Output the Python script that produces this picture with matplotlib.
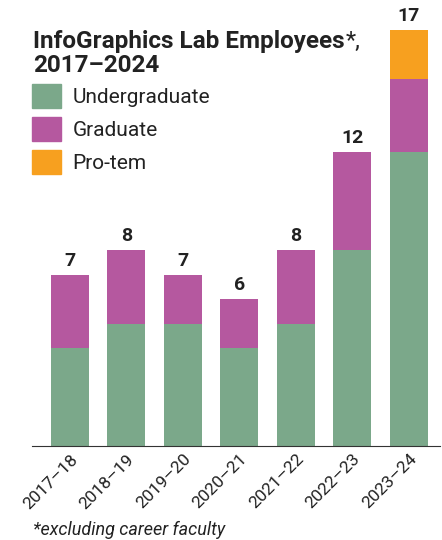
import numpy as np
import matplotlib.pyplot as plt
from matplotlib.patches import Patch

years = ['2017–18', '2018–19', '2019–20', '2020–21', '2021–22', '2022–23', '2023–24']
undergrad = [4, 5, 5, 4, 5, 8, 12]
graduate = [3, 3, 2, 2, 3, 4, 3]
protem = [0, 0, 0, 0, 0, 0, 2]
series = ['Undergraduate', 'Graduate', 'Pro-tem']
colors = ['#7ba88a', '#b5589f', '#f7a01f']

plt.rcParams['font.family'] = ['Roboto', 'DejaVu Sans']
W, H = 442, 540
fig = plt.figure(figsize=(W/100, H/100), dpi=100)
ax = fig.add_axes([32/W, (H-446)/H, (440-32)/W, 441/H])

x = np.arange(len(years))
bottom = np.zeros(len(years))
for vals, c in zip([undergrad, graduate, protem], colors):
    ax.bar(x, vals, 0.67, bottom=bottom, color=c, linewidth=0)
    bottom += np.array(vals)
for xi, t in zip(x, bottom):
    ax.text(xi, t + 0.2, f'{int(t)}', ha='center', va='bottom', fontsize=14,
            fontweight='bold', color='#222222')

ax.set_xlim(-0.67, 6.55)
ax.set_ylim(0, 18)
for s in ['top', 'right', 'left']:
    ax.spines[s].set_visible(False)
ax.spines['bottom'].set_color('#333333')
ax.set_yticks([])
ax.set_xticks(x)
ax.set_xticklabels(years, rotation=45, ha='right', rotation_mode='anchor',
                   fontsize=12.5, color='#222222')
ax.tick_params(axis='x', length=0, pad=4)

t1 = fig.text(33/W, 1-48/H, 'InfoGraphics Lab Employees', fontsize=17.5, fontweight='bold',
              color='#222222', va='baseline')
fig.text(33/W, 1-72/H, '2017–2024', fontsize=17.5, fontweight='bold',
         color='#222222', va='baseline')
ax.annotate('*,', xy=(1, 0), xycoords=t1, xytext=(1, 0), textcoords='offset points',
            fontsize=17, color='#222222', va='bottom', ha='left')

handles = [Patch(color=c, label=l) for c, l in zip(colors, series)]
fig.legend(handles=handles, loc='upper left', bbox_to_anchor=(32/W, 1-84/H),
           frameon=False, fontsize=15, handlelength=1.4, handleheight=1.4,
           labelspacing=0.42, handletextpad=0.55, labelcolor='#222222',
           borderaxespad=0, borderpad=0)

fig.text(33/W, 1-535/H, '*excluding career faculty', fontsize=13, style='italic',
         color='#222222', va='baseline')

fig.savefig('out.png', dpi=100)
